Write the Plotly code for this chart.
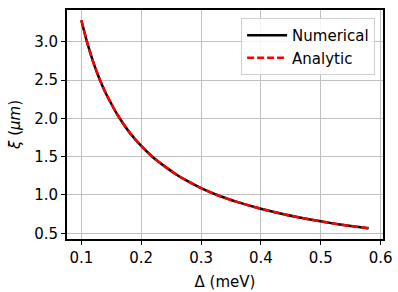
import plotly.graph_objects as go

delta = [0.1, 0.11, 0.12, 0.13, 0.14, 0.15, 0.16, 0.18, 0.2, 0.22, 0.24, 0.26, 0.28,
         0.3, 0.33, 0.36, 0.4, 0.44, 0.48, 0.52, 0.55, 0.58]
xi_num = [3.28, 2.98, 2.73, 2.52, 2.34, 2.19, 2.05, 1.82, 1.64, 1.49, 1.37, 1.26, 1.17,
          1.09, 0.99, 0.91, 0.82, 0.745, 0.683, 0.63, 0.596, 0.565]
xi_ana = [3.28, 2.98, 2.73, 2.52, 2.34, 2.19, 2.05, 1.82, 1.64, 1.49, 1.37, 1.26, 1.17,
          1.09, 0.99, 0.91, 0.82, 0.745, 0.683, 0.63, 0.596, 0.565]
xticks = [0.1, 0.2, 0.3, 0.4, 0.5, 0.6]
yticks = [0.5, 1.0, 1.5, 2.0, 2.5, 3.0]

fig = go.Figure()
fig.add_trace(go.Scatter(x=delta, y=xi_num, mode="lines", name="Numerical",
                         line=dict(color="black", width=2.5, shape="spline", smoothing=0.6)))
fig.add_trace(go.Scatter(x=delta, y=xi_ana, mode="lines", name="Analytic",
                         line=dict(color="red", width=2.5, dash="7px,3px", shape="spline", smoothing=0.6)))

axis_common = dict(showline=True, linecolor="black", linewidth=2, mirror=True,
                   showgrid=True, gridcolor="#c0c0c0", gridwidth=1,
                   ticks="outside", ticklen=4, tickwidth=1, tickcolor="black",
                   zeroline=False, automargin=False, tickfont=dict(size=15, color="black"))

fig.update_layout(
    width=398, height=292,
    margin=dict(l=67, r=15, t=10, b=53),
    plot_bgcolor="white", paper_bgcolor="white",
    font=dict(family="DejaVu Sans", color="black", size=15),
    xaxis=dict(range=[0.076, 0.604], tickvals=xticks, ticktext=[f"{v:.1f}" for v in xticks],
               title=dict(text="Δ (meV)", font=dict(size=15), standoff=10), **axis_common),
    yaxis=dict(range=[0.426, 3.413], tickvals=yticks, ticktext=[f"{v:.1f}" for v in yticks],
               title=dict(text="<i>ξ</i> (<i>μm</i>)", font=dict(size=15), standoff=10), **axis_common),
    legend=dict(x=0.975, y=0.965, xanchor="right", yanchor="top",
                bgcolor="rgba(255,255,255,0.85)", bordercolor="#d0d0d0", borderwidth=1,
                font=dict(size=15), tracegroupgap=0, itemwidth=40),
    showlegend=True,
)
fig.write_html("out.html", config={"displayModeBar": False},
               post_script="document.body.style.margin='0';")
